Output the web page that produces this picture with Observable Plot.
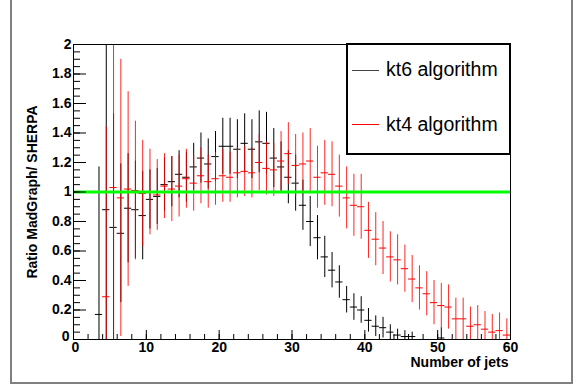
<!DOCTYPE html>
<html><head><meta charset="utf-8">
<script src="https://cdn.jsdelivr.net/npm/d3@7"></script>
<script src="https://cdn.jsdelivr.net/npm/@observablehq/plot@0.6"></script>
<style>
body{margin:0;background:#fff;}
#wrap{position:relative;width:576px;height:389px;overflow:hidden;font-family:"Liberation Sans",Arial,sans-serif;}
#wrap svg{position:absolute;left:0;top:0;}
#border{position:absolute;left:10px;top:-5px;width:563px;height:389px;box-sizing:border-box;border:2px solid #808080;}
#legend{position:absolute;left:346px;top:43px;width:165px;height:112px;box-sizing:border-box;border:2px solid #000;background:#fff;}
.ls{position:absolute;left:4px;width:27px;height:0;border-top:1px solid;}
.lt{position:absolute;left:38px;font-size:19.5px;line-height:22px;white-space:nowrap;color:#000;}
</style>
</head><body>
<div id="wrap">
<div id="border"></div>
<div id="plot"></div>
<div id="legend">
  <div class="ls" style="top:25px;border-color:#444;"></div><div class="lt" style="top:13px;">kt6 algorithm</div>
  <div class="ls" style="top:79px;border-color:#f00;"></div><div class="lt" style="top:68px;">kt4 algorithm</div>
</div>
</div>
<script>
// kt6 algorithm: lower bin edges, ratio values, errors
const kt6Bins = [3,4,5,6,7,8,9,10,11,12,13,14,15,16,17,18,19,20,21,22,23,24,25,26,27,28,29,30,31,32,33,34,35,36,37,38,39,40,41,42,43,44,45,46,50];
const kt6Ratio = [0.17,0.88,0.76,0.72,0.89,0.88,0.84,0.95,0.97,1.05,1.07,1.12,1.10,1.17,1.23,1.19,1.24,1.31,1.31,1.29,1.33,1.29,1.34,1.33,1.23,1.17,1.10,1.06,0.91,0.80,0.69,0.56,0.47,0.39,0.27,0.22,0.20,0.13,0.09,0.08,0.05,0.03,0.02,0.02,0.01];
const kt6Err = [1.0,1.6,0.77,0.47,0.37,0.33,0.30,0.20,0.19,0.18,0.17,0.16,0.17,0.16,0.17,0.17,0.17,0.19,0.19,0.20,0.20,0.20,0.21,0.21,0.20,0.17,0.18,0.19,0.17,0.17,0.15,0.14,0.12,0.11,0.09,0.09,0.09,0.08,0.07,0.07,0.05,0.04,0.04,0.03,0.07];

// kt4 algorithm
const kt4Bins = [4,5,6,7,8,9,10,11,12,13,14,15,16,17,18,19,20,21,22,23,24,25,26,27,28,29,30,31,32,33,34,35,36,37,38,39,40,41,42,43,44,45,46,47,48,49,50,51,52,53,54,55,56,57,58,59];
const kt4Ratio = [0.29,1.03,0.96,1.02,1.01,0.99,1.00,0.98,1.04,1.02,1.04,1.09,1.06,1.11,1.07,1.09,1.11,1.10,1.13,1.14,1.13,1.20,1.16,1.15,1.21,1.26,1.18,1.19,1.21,1.10,1.13,1.12,1.04,0.96,0.91,0.90,0.74,0.68,0.62,0.56,0.54,0.48,0.41,0.35,0.31,0.25,0.23,0.22,0.14,0.14,0.09,0.10,0.07,0.05,0.06,0.03];
const kt4Err = [1.15,1.2,0.94,0.66,0.47,0.36,0.29,0.24,0.22,0.22,0.21,0.20,0.19,0.19,0.18,0.18,0.18,0.17,0.17,0.17,0.17,0.19,0.18,0.18,0.20,0.21,0.21,0.21,0.22,0.21,0.22,0.22,0.21,0.21,0.21,0.22,0.19,0.18,0.18,0.17,0.17,0.16,0.16,0.15,0.15,0.15,0.15,0.15,0.14,0.14,0.13,0.13,0.12,0.12,0.12,0.11];

const refLine = [1];
const yMajor = d3.range(0, 11).map(i => i * 0.2);
const yMinor = d3.range(0, 41).map(i => i * 0.05);
const xMajor = d3.range(0, 7).map(i => i * 10);
const xMinor = d3.range(0, 31).map(i => i * 2);
const xTitle = "Number of jets";
const yTitle = "Ratio MadGraph/ SHERPA";

const mk = (bins, vals, errs) => bins.map((b, i) => ({lo: b, hi: b + 1, mid: b + 0.5, v: vals[i], e: errs[i]}));
const kt6 = mk(kt6Bins, kt6Ratio, kt6Err);
const kt4 = mk(kt4Bins, kt4Ratio, kt4Err);

const font = {fontSize: 14, fontWeight: "bold"};
const fmtY = d => String(+d.toFixed(1));
const plot = Plot.plot({
  width: 576, height: 389,
  marginLeft: 73, marginRight: 66, marginTop: 44, marginBottom: 50,
  style: {background: "transparent", fontFamily: "'Liberation Sans', Arial, sans-serif", color: "#000"},
  x: {domain: [0, 60]},
  y: {domain: [0, 2], clamp: true},
  marks: [
    Plot.ruleX(kt6, {x: "mid", y1: d => d.v - d.e, y2: d => d.v + d.e, stroke: "#000", strokeWidth: 1}),
    Plot.ruleY(kt6, {y: "v", x1: "lo", x2: "hi", stroke: "#000", strokeWidth: 1}),
    Plot.ruleX(kt4, {x: "mid", y1: d => d.v - d.e, y2: d => d.v + d.e, stroke: "#ff0000", strokeOpacity: 0.85, strokeWidth: 1}),
    Plot.ruleY(kt4, {y: "v", x1: "lo", x2: "hi", stroke: "#ff0000", strokeWidth: 1}),
    Plot.ruleY(refLine, {stroke: "#00ff00", strokeWidth: 3}),
    Plot.axisY({ticks: yMinor, tickSize: -7, tickFormat: () => "", label: null, stroke: "#000"}),
    Plot.axisY({ticks: yMajor, tickSize: -13, tickFormat: () => "", label: null, stroke: "#000"}),
    Plot.axisY({ticks: yMajor.slice(1), tickSize: 0, tickPadding: 2, tickFormat: fmtY, label: null, ...font}),
    Plot.axisY({ticks: yMajor.slice(0, 1), tickSize: 0, tickPadding: 4, dy: -3, tickFormat: fmtY, label: null, ...font}),
    Plot.axisX({ticks: xMinor, tickSize: -5, tickFormat: () => "", label: null, stroke: "#000"}),
    Plot.axisX({ticks: xMajor, tickSize: -9, tickFormat: () => "", label: null, stroke: "#000"}),
    Plot.axisX({ticks: xMajor.slice(1), tickSize: 0, tickPadding: 3, tickFormat: d => String(d), label: null, ...font}),
    Plot.axisX({ticks: xMajor.slice(0, 1), tickSize: 0, tickPadding: 3, dx: 2, tickFormat: d => String(d), label: null, ...font}),
    Plot.text([xTitle], {frameAnchor: "bottom-right", dx: -2, dy: 23.5, textAnchor: "end", lineAnchor: "middle", ...font}),
    Plot.text([yTitle], {frameAnchor: "left", dx: -41, rotate: -90, textAnchor: "middle", lineAnchor: "middle", ...font}),
    Plot.frame({stroke: "#000", strokeWidth: 1})
  ]
});
document.getElementById("plot").appendChild(plot);
</script>
</body></html>
